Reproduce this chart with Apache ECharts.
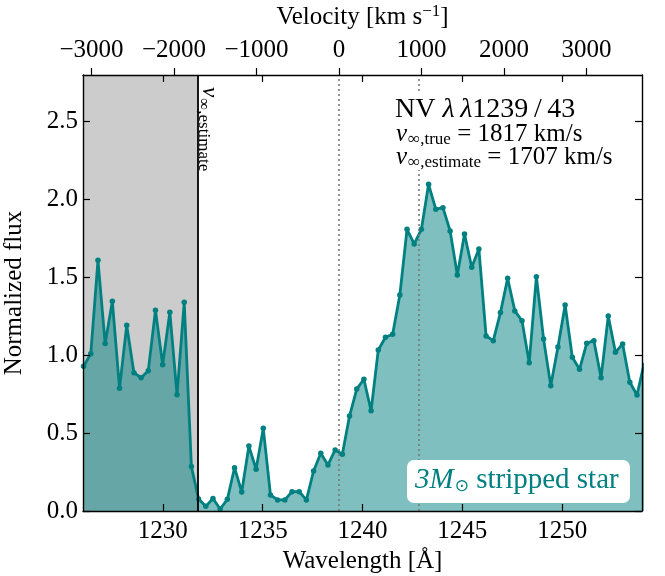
<!DOCTYPE html>
<html><head><meta charset="utf-8">
<script src="https://cdn.jsdelivr.net/npm/echarts@6/dist/echarts.min.js"></script>
<style>html,body{margin:0;padding:0;background:#fff}#c{width:665px;height:576px}</style>
</head><body><div id="c"></div>
<script>
// ---- data ----
const wavelength = [1226.03,1226.39,1226.75,1227.11,1227.47,1227.83,1228.19,1228.55,1228.91,1229.27,
  1229.63,1229.99,1230.35,1230.71,1231.07,1231.43,1231.79,1232.15,1232.51,1232.87,
  1233.23,1233.59,1233.95,1234.31,1234.67,1235.03,1235.39,1235.75,1236.11,1236.47,
  1236.83,1237.19,1237.55,1237.91,1238.27,1238.63,1238.99,1239.35,1239.71,1240.07,
  1240.43,1240.79,1241.15,1241.51,1241.87,1242.23,1242.59,1242.95,1243.31,1243.67,
  1244.03,1244.39,1244.75,1245.11,1245.47,1245.83,1246.19,1246.55,1246.91,1247.27,
  1247.63,1247.99,1248.35,1248.71,1249.07,1249.43,1249.79,1250.15,1250.51,1250.87,
  1251.23,1251.59,1251.95,1252.31,1252.67,1253.03,1253.39,1253.75,1254.11];
const flux = [0.93,1.01,1.61,1.075,1.347,0.788,1.193,0.888,0.856,0.901,
  1.289,0.940,1.276,0.747,1.340,0.285,0.077,0.03,0.08,0.013,
  0.075,0.278,0.122,0.417,0.268,0.531,0.103,0.071,0.071,0.124,
  0.124,0.071,0.257,0.371,0.296,0.392,0.365,0.610,0.783,0.846,
  0.644,1.034,1.116,1.135,1.387,1.809,1.715,1.809,2.098,1.938,
  1.948,1.798,1.516,1.779,1.565,1.683,1.124,1.094,1.274,1.495,
  1.285,1.222,0.952,1.505,1.105,0.805,1.053,1.323,0.987,0.910,
  1.077,1.094,0.856,1.252,1.019,1.073,0.827,0.745,0.95];
const wavelengthTicks = [1230,1235,1240,1245,1250];
const velocityTicks = [-3000,-2000,-1000,0,1000,2000,3000];
const fluxTicks = [0,0.5,1.0,1.5,2.0,2.5];
const lambdaBlue = 1238.82;   // NV rest wavelength (velocity zero)
const lambdaRed = 1242.80;
const vTrue = 1817, vEstimate = 1707;
const xMin = 1226, xMax = 1254, yMin = 0, yMax = 2.8;

// ---- derived ----
const C = 299792.458;
const lambdaEst = lambdaBlue * (1 - vEstimate / C);
const vMin = C * (xMin - lambdaBlue) / lambdaBlue;
const vMax = C * (xMax - lambdaBlue) / lambdaBlue;
const seriesData = wavelength.map((w, i) => [w, flux[i]]);

const FONT = 'Liberation Serif';
const TEAL = '#008080';
const FS = 25;
const minus = v => v < 0 ? '\u2212' + (-v) : String(v);

const chart = echarts.init(document.getElementById('c'), null, {renderer: 'canvas'});
const axisLine = {show: true, onZero: false, lineStyle: {color: '#000', width: 1.4}};
chart.setOption({
  animation: false,
  backgroundColor: '#fff',
  grid: {left: 83, right: 23, top: 75, bottom: 65, containLabel: false, outerBoundsMode: 'none'},
  xAxis: [
    { type: 'value', position: 'bottom', min: xMin, max: xMax, z: 10,
      axisLine, splitLine: {show: false},
      axisTick: {show: true, inside: true, length: 7, customValues: wavelengthTicks, lineStyle: {color: '#000', width: 1.2}},
      axisLabel: {customValues: wavelengthTicks, fontFamily: FONT, fontSize: FS, color: '#000', margin: 8, formatter: v => String(v)},
      name: 'Wavelength [Å]', nameLocation: 'middle', nameGap: 33,
      nameTextStyle: {fontFamily: FONT, fontSize: FS, color: '#000'} },
    { type: 'value', position: 'top', min: vMin, max: vMax, z: 10,
      axisLine, splitLine: {show: false},
      axisTick: {show: true, inside: false, length: 7, customValues: velocityTicks, lineStyle: {color: '#000', width: 1.2}},
      axisLabel: {customValues: velocityTicks, fontFamily: FONT, fontSize: FS, color: '#000', margin: 12, formatter: minus},
      name: '{a|Velocity [km s}{s|\u22121}{a|]}', nameLocation: 'middle', nameGap: 43,
      nameTextStyle: {rich: {
        a: {fontFamily: FONT, fontSize: FS, color: '#000', verticalAlign: 'middle'},
        s: {fontFamily: FONT, fontSize: 17, color: '#000', verticalAlign: 'middle', padding: [0, 0, 12, 0]}
      }} },
    { type: 'value', position: 'top', offset: 0, min: xMin, max: xMax, z: 10,
      axisLine: {show: false, onZero: false}, splitLine: {show: false},
      axisTick: {show: true, inside: true, length: 7, customValues: wavelengthTicks, lineStyle: {color: '#000', width: 1.2}},
      axisLabel: {show: false} }
  ],
  yAxis: [
    { type: 'value', position: 'left', min: yMin, max: yMax, z: 10,
      axisLine, splitLine: {show: false},
      axisTick: {show: true, inside: true, length: 7, customValues: fluxTicks, lineStyle: {color: '#000', width: 1.2}},
      axisLabel: {customValues: fluxTicks, fontFamily: FONT, fontSize: FS, color: '#000', margin: 5, formatter: v => v.toFixed(1)},
      name: 'Normalized flux', nameLocation: 'middle', nameGap: 56,
      nameTextStyle: {fontFamily: FONT, fontSize: FS, color: '#000'} },
    { type: 'value', position: 'right', min: yMin, max: yMax, z: 10,
      axisLine, splitLine: {show: false},
      axisTick: {show: true, inside: true, length: 7, customValues: fluxTicks, lineStyle: {color: '#000', width: 1.2}},
      axisLabel: {show: false} }
  ],
  series: [
    { type: 'line', name: 'shade', z: 1, data: [[xMin, 0]], symbol: 'none', silent: true,
      lineStyle: {width: 0, opacity: 0},
      markArea: {silent: true, itemStyle: {color: '#cccccc', opacity: 1},
        data: [[{xAxis: xMin, yAxis: yMin}, {xAxis: lambdaEst, yAxis: yMax}]]} },
    { type: 'line', name: '3M stripped star', z: 3, data: seriesData,
      symbol: 'circle', symbolSize: 5.5, showSymbol: true, showAllSymbol: true,
      itemStyle: {color: TEAL}, lineStyle: {color: TEAL, width: 2.8},
      areaStyle: {color: TEAL, opacity: 0.5, origin: 'start'} },
    { type: 'line', name: 'lines', z: 5, data: [[xMin, 0]], symbol: 'none', silent: true,
      lineStyle: {width: 0, opacity: 0},
      markLine: {silent: true, symbol: 'none', label: {show: false},
        data: [
          {xAxis: lambdaBlue, lineStyle: {type: [2, 3], color: '#7a7a7a', width: 1.6}},
          {xAxis: lambdaRed, lineStyle: {type: [2, 3], color: '#7a7a7a', width: 1.6}},
          {xAxis: lambdaEst, lineStyle: {type: 'solid', color: '#000', width: 1.8}}
        ]} }
  ],
  graphic: [
    { type: 'rect', z: 100, shape: {x: 392, y: 94, width: 240, height: 76}, style: {fill: '#fff'} },
    { type: 'text', z: 101, x: 395, y: 110, style: {
        text: '{n|NV }{l|λ\u2009λ}{n|1239\u2009/\u200943}', verticalAlign: 'middle', align: 'left',
        rich: {n: {fontFamily: FONT, fontSize: 28, fill: '#000', verticalAlign: 'middle'},
               l: {fontFamily: FONT, fontSize: 28, fontStyle: 'italic', fill: '#000', verticalAlign: 'middle'}} } },
    { type: 'text', z: 101, x: 396, y: 134, style: {
        text: '{v|v}{s|\u221e,true}{r| = ' + vTrue + ' km/s}', verticalAlign: 'middle', align: 'left',
        rich: {v: {fontFamily: FONT, fontSize: 25, fontStyle: 'italic', fill: '#000', verticalAlign: 'middle'},
               s: {fontFamily: FONT, fontSize: 17, fill: '#000', verticalAlign: 'middle', padding: [12, 0, 0, 1]},
               r: {fontFamily: FONT, fontSize: 25, fill: '#000', verticalAlign: 'middle'}} } },
    { type: 'text', z: 101, x: 396, y: 157, style: {
        text: '{v|v}{s|\u221e,estimate}{r| = ' + vEstimate + ' km/s}', verticalAlign: 'middle', align: 'left',
        rich: {v: {fontFamily: FONT, fontSize: 25, fontStyle: 'italic', fill: '#000', verticalAlign: 'middle'},
               s: {fontFamily: FONT, fontSize: 17, fill: '#000', verticalAlign: 'middle', padding: [12, 0, 0, 1]},
               r: {fontFamily: FONT, fontSize: 25, fill: '#000', verticalAlign: 'middle'}} } },
    { type: 'text', z: 101, x: 209, y: 87, rotation: -Math.PI / 2, style: {
        text: '{v|v}{s|\u221e,estimate}', verticalAlign: 'middle', align: 'left',
        rich: {v: {fontFamily: FONT, fontSize: 23, fontStyle: 'italic', fill: '#000', verticalAlign: 'middle'},
               s: {fontFamily: FONT, fontSize: 17, fill: '#000', verticalAlign: 'middle', padding: [11, 0, 0, 1]}} } },
    { type: 'rect', z: 100, shape: {x: 407, y: 460, width: 223, height: 43, r: 7}, style: {fill: '#fff'} },
    { type: 'text', z: 101, x: 415, y: 480, style: {
        text: '{a|3}{m|M}{o|\u2299}{b| stripped star}', verticalAlign: 'middle', align: 'left',
        rich: {a: {fontFamily: FONT, fontSize: 29, fontStyle: 'italic', fill: TEAL, verticalAlign: 'middle'},
               m: {fontFamily: FONT, fontSize: 29, fontStyle: 'italic', fill: TEAL, verticalAlign: 'middle'},
               o: {fontFamily: 'DejaVu Sans', fontSize: 17, fill: TEAL, verticalAlign: 'middle', padding: [14, 0, 0, 1]},
               b: {fontFamily: FONT, fontSize: 29, fill: TEAL, verticalAlign: 'middle'}} } }
  ]
});
</script>
</body></html>
